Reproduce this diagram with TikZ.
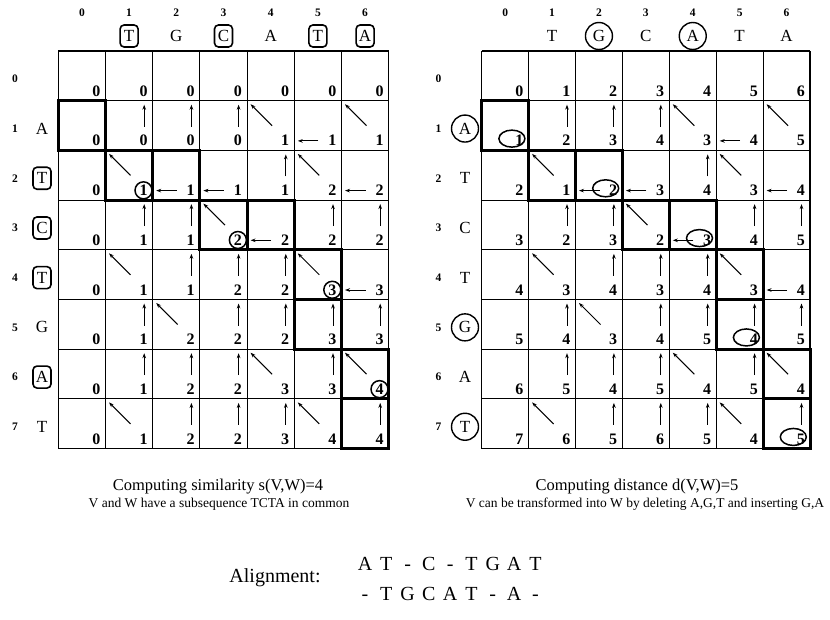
\documentclass[tikz,border=0pt]{standalone}
\usepackage{fontspec}
\setmainfont{Liberation Serif}
\usetikzlibrary{arrows.meta}
\def\GY{51}
\def\RH{49.7}
\newcommand\fillgrid[4]{%
  \foreach \i/\j/\val/\ar in {#4}{%
    \pgfmathsetmacro\xl{#2+\j*#3}%
    \pgfmathsetmacro\xr{#2+(\j+1)*#3}%
    \pgfmathsetmacro\yt{\GY+\i*\RH}%
    \pgfmathsetmacro\yb{\GY+(\i+1)*\RH}%
    \node[num] (#1-\i-\j) at ({\xr-5},{\yb-4.5}) {\val};
    \ifcase\ar\relax
    \or \draw[arr] ({\xr-8.5},{\yt+26}) -- ({\xr-8.5},{\yt+4});
    \or \draw[arr] ({\xl+25},{\yt+25}) -- ({\xl+3.5},{\yt+3.5});
    \or \draw[arr] ({\xl+24},{\yb-9.5}) -- ({\xl+3.5},{\yb-9.5});
    \fi
  }%
}
\begin{document}
\begin{tikzpicture}[x=1pt,y=-1pt,
  gridline/.style={line width=1.1pt},
  pathbox/.style={line width=3pt},
  arr/.style={line width=1pt,-{Stealth[length=5pt,width=3.6pt]}},
  num/.style={font=\fontsize{16}{16}\selectfont\bfseries, inner sep=0pt, anchor=base east},
  idx/.style={font=\fontsize{11.5}{11.5}\selectfont\bfseries, inner sep=0pt},
  let/.style={font=\fontsize{17}{17}\selectfont, inner sep=0pt},
  boxed/.style={draw, rounded corners=4pt, line width=1.6pt, minimum width=18pt, minimum height=22pt, inner sep=0pt},
  ringed/.style={draw, circle, line width=1.4pt, minimum size=27pt, inner sep=0pt},
  numring/.style={line width=1.5pt},
  capt/.style={font=\fontsize{16.5}{16.5}\selectfont, inner sep=0pt},
  sub/.style={font=\fontsize{13.5}{13.5}\selectfont, inner sep=0pt},
  aln/.style={font=\fontsize{20}{20}\selectfont, inner sep=0pt},
  tok/.style={font=\fontsize{20}{20}\selectfont, inner sep=0pt, anchor=base}
]
\useasboundingbox (0,0) rectangle (830,619);
% grids
\foreach \X/\W in {58.3/47.2,481.7/46.9}{
  \foreach \k in {0,...,7} \draw[gridline] ({\X+\k*\W},\GY) -- ({\X+\k*\W},{\GY+8*\RH});
  \foreach \k in {0,...,8} \draw[gridline] (\X,{\GY+\k*\RH}) -- ({\X+7*\W},{\GY+\k*\RH});
  \foreach \i/\j in {1/0,2/1,2/2,3/3,3/4,4/5,5/5,6/6,7/6}
    \draw[pathbox] ({\X+\j*\W},{\GY+\i*\RH}) rectangle ({\X+(\j+1)*\W},{\GY+(\i+1)*\RH});
}
% left grid entries (similarity)
\fillgrid{L}{58.3}{47.2}{0/0/0/0,0/1/0/0,0/2/0/0,0/3/0/0,0/4/0/0,0/5/0/0,0/6/0/0,
1/0/0/0,1/1/0/1,1/2/0/1,1/3/0/1,1/4/1/2,1/5/1/3,1/6/1/2,
2/0/0/0,2/1/1/2,2/2/1/3,2/3/1/3,2/4/1/1,2/5/2/2,2/6/2/3,
3/0/0/0,3/1/1/1,3/2/1/1,3/3/2/2,3/4/2/3,3/5/2/1,3/6/2/1,
4/0/0/0,4/1/1/2,4/2/1/1,4/3/2/1,4/4/2/1,4/5/3/2,4/6/3/3,
5/0/0/0,5/1/1/1,5/2/2/2,5/3/2/1,5/4/2/1,5/5/3/1,5/6/3/1,
6/0/0/0,6/1/1/1,6/2/2/1,6/3/2/1,6/4/3/2,6/5/3/1,6/6/4/2,
7/0/0/0,7/1/1/2,7/2/2/1,7/3/2/1,7/4/3/1,7/5/4/2,7/6/4/1}
% right grid entries (distance)
\fillgrid{R}{481.7}{46.9}{0/0/0/0,0/1/1/0,0/2/2/0,0/3/3/0,0/4/4/0,0/5/5/0,0/6/6/0,
1/0/1/0,1/1/2/1,1/2/3/1,1/3/4/1,1/4/3/2,1/5/4/3,1/6/5/2,
2/0/2/0,2/1/1/2,2/2/2/3,2/3/3/3,2/4/4/1,2/5/3/2,2/6/4/3,
3/0/3/0,3/1/2/1,3/2/3/1,3/3/2/2,3/4/3/3,3/5/4/1,3/6/5/1,
4/0/4/0,4/1/3/2,4/2/4/1,4/3/3/1,4/4/4/1,4/5/3/2,4/6/4/3,
5/0/5/0,5/1/4/1,5/2/3/2,5/3/4/1,5/4/5/1,5/5/4/1,5/6/5/1,
6/0/6/0,6/1/5/1,6/2/4/1,6/3/5/1,6/4/4/2,6/5/5/1,6/6/4/2,
7/0/7/0,7/1/6/2,7/2/5/1,7/3/6/1,7/4/5/1,7/5/4/2,7/6/5/1}
% marks on path values
\foreach \i/\j in {2/1,3/3,4/5,6/6}
  \draw[numring] (L-\i-\j.center) circle[radius=8.5];
\foreach \i/\j in {1/0,2/2,3/4,5/5,7/6}
  \draw[numring] ([xshift=-7.5pt,yshift=2pt]R-\i-\j.center) ellipse[x radius=13, y radius=8.5];
% column labels
\foreach \j in {0,...,6}{
  \node[idx] (LC\j) at ({58.3+(\j+0.5)*47.2},13) {\j};
  \node[idx] (RC\j) at ({481.7+(\j+0.5)*46.9},13) {\j};
}
\foreach \j/\c in {2/G,4/A}
  \node[let] (LW\j) at ({58.3+(\j+0.5)*47.2},36) {\c};
\foreach \j/\c in {1/T,3/C,5/T,6/A}
  \node[let,boxed] (LW\j) at ({58.3+(\j+0.5)*47.2},36) {\c};
\foreach \j/\c in {1/T,3/C,5/T,6/A}
  \node[let] (RW\j) at ({481.7+(\j+0.5)*46.9},36) {\c};
\foreach \j/\c in {2/G,4/A}
  \node[let,ringed] (RW\j) at ({481.7+(\j+0.5)*46.9},36) {\c};
% row labels
\foreach \i in {0,...,7}{
  \node[idx] (LR\i) at (15,{\GY+(\i+0.5)*\RH+3}) {\i};
  \node[idx] (RR\i) at (438.5,{\GY+(\i+0.5)*\RH+3}) {\i};
}
\foreach \i/\c in {1/A,5/G,7/T}
  \node[let] (LV\i) at (42,{\GY+(\i+0.5)*\RH+3}) {\c};
\foreach \i/\c in {2/T,3/C,4/T,6/A}
  \node[let,boxed] (LV\i) at (42,{\GY+(\i+0.5)*\RH+3}) {\c};
\foreach \i/\c in {2/T,3/C,4/T,6/A}
  \node[let] (RV\i) at (465,{\GY+(\i+0.5)*\RH+3}) {\c};
\foreach \i/\c in {1/A,5/G,7/T}
  \node[let,ringed] (RV\i) at (465,{\GY+(\i+0.5)*\RH+3}) {\c};
% captions
\node[capt] (cap1) at (218,487) {Computing similarity s(V,W)=4};
\node[sub] (sub1) at (219,504) {V and W have a subsequence TCTA in common};
\node[capt] (cap2) at (637,487) {Computing distance d(V,W)=5};
\node[sub] (sub2) at (645,504) {V can be transformed into W by deleting A,G,T and inserting G,A};
% alignment
\node[aln] (alab) at (275,578) {Alignment:};
\foreach \k/\c in {0/A,1/T,2/-,3/C,4/-,5/T,6/G,7/A,8/T}
  \node[tok] (a1\k) at ({365+\k*21.3},570) {\c};
\foreach \k/\c in {0/-,1/T,2/G,3/C,4/A,5/T,6/-,7/A,8/-}
  \node[tok] (a2\k) at ({365+\k*21.3},600) {\c};
\end{tikzpicture}
\end{document}
